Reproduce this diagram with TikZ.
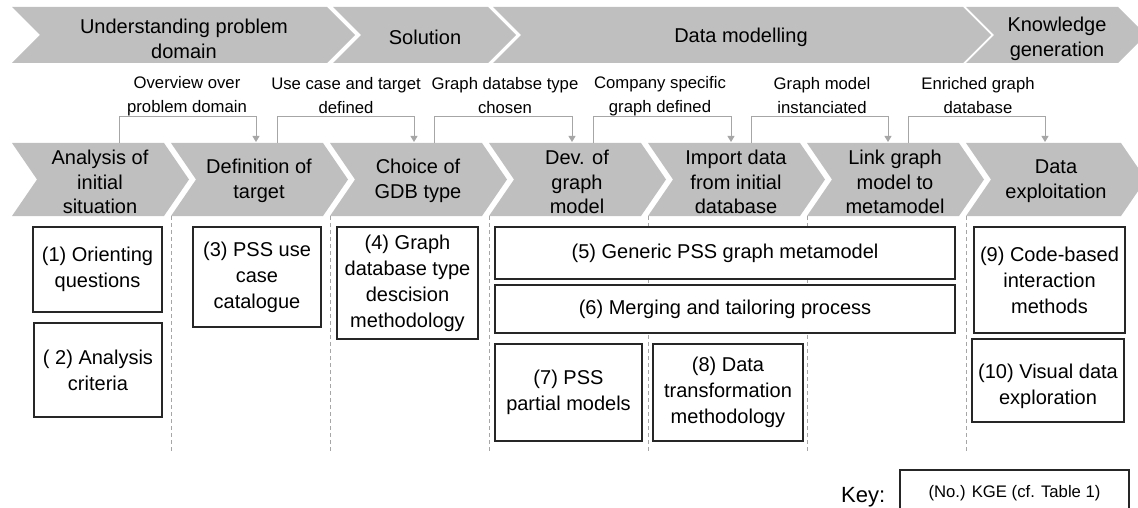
\documentclass[tikz,border=0pt]{standalone}
\usepackage{fontspec}
\setmainfont{Liberation Sans}
\usetikzlibrary{arrows.meta,positioning}

\definecolor{phasegray}{HTML}{BFBFBF}
\definecolor{linkgray}{HTML}{A6A6A6}
\definecolor{boxline}{HTML}{262626}

\begin{document}
\begin{tikzpicture}[x=1pt, y=-1pt,
	phase/.style={fill=phasegray, draw=none},
	phasetext/.style={align=center, inner sep=0pt, font=\fontsize{20}{24.5}\selectfont},
	result/.style={align=center, inner sep=0pt, font=\fontsize{16.7}{24}\selectfont},
	kge/.style={draw=boxline, fill=white, line width=1.1pt, align=center, inner sep=0pt, font=\fontsize{20}{26}\selectfont},
	flow/.style={draw=linkgray, line width=1pt, -{Triangle[length=6pt,width=7pt]}},
	sep/.style={draw=linkgray, line width=1pt, dash pattern=on 4pt off 3pt}]

	% ---- frame

	\useasboundingbox (0,0) rectangle (1138,508);
	\clip (0,0) rectangle (1138,508);

	% ---- parameters

	\def\td{28}    % tip depth, upper row
	\def\bd{25}    % tip depth, lower row
	\def\bh{36.5}  % half height, lower row

	% ---- upper row: phases

	\foreach \l/\r in {12/327, 333/488, 493/963, 966/1118} {
		\fill[phase] (\l,7) -- (\r,7) -- ++(\td,28) -- ++(-\td,28) -- (\l,63) -- ++(\td,-28) -- cycle;
	}

	\node[phasetext] (p1) at (184,39) {Understanding problem\\domain};
	\node[phasetext] (p2) at (425,37) {Solution};
	\node[phasetext] (p3) at (741,37) {Data modelling};
	\node[phasetext] (p4) at (1057,39) {Knowledge\\generation};

	% ---- lower row: steps

	\foreach \l/\r in {12/164, 171/323, 330/482, 489/641, 648/800, 807/959, 966/1121} {
		\fill[phase] (\l,143) -- (\r,143) -- ++(\bd,\bh) -- ++(-\bd,\bh) -- (\l,216) -- ++(\bd,-\bh) -- cycle;
	}

	\node[phasetext] (s1) at (100,182) {Analysis of\\initial\\situation};
	\node[phasetext] (s2) at (259,181) {Definition of\\target};
	\node[phasetext] (s3) at (418,181) {Choice of\\GDB type};
	\node[phasetext] (s4) at (577,182) {Dev. of\\graph\\model};
	\node[phasetext] (s5) at (736,182) {Import data\\from initial\\database};
	\node[phasetext] (s6) at (895,182) {Link graph\\model to\\metamodel};
	\node[phasetext] (s7) at (1056,181) {Data\\exploitation};

	% ---- separators

	\foreach \x in {171,330,489,648,807,966} { \draw[sep] (\x,216) -- (\x,453); }

	% ---- hand-over points

	\foreach \i/\j/\xo/\xa in {1/2/119/256, 2/3/277/414, 3/4/434/572, 4/5/593/731, 5/6/751/888, 6/7/908/1045} {
		\coordinate (o\i) at (\xo,143);
		\coordinate (a\j) at (\xa,142);
	}

	% ---- results between steps

	\node[result] (r1) at (187,96) {Overview over\\problem domain};
	\node[result] (r2) at (346,96) {Use case and target\\defined};
	\node[result] (r3) at (505,96) {Graph databse type\\chosen};
	\node[result] (r4) at (660,96) {Company specific\\graph defined};
	\node[result] (r5) at (822,96) {Graph model\\instanciated};
	\node[result] (r6) at (978,96) {Enriched graph\\database};

	\foreach \i/\j in {1/2, 2/3, 3/4, 4/5, 5/6, 6/7} { \draw[flow] (o\i) -- ++(0,-26) -| (a\j); }

	% ---- KGE boxes

	\node[kge, minimum width=129, minimum height=85] (k1) at (97.5,269.5) {(1) Orienting\\questions};
	\node[kge, minimum width=128, minimum height=94] (k2) at (98,370) {( 2) Analysis\\criteria};
	\node[kge, minimum width=128, minimum height=100] (k3) at (257,277) {(3) PSS use\\case\\catalogue};
	\node[kge, minimum width=141, minimum height=112] (k4) at (407.5,283) {(4) Graph\\database type\\descision\\methodology};
	\node[kge, minimum width=460, minimum height=52] (k5) at (725,253) {(5) Generic PSS graph metamodel};
	\node[kge, minimum width=460, minimum height=48] (k6) at (725,309) {(6) Merging and tailoring process};
	\node[kge, minimum width=147, minimum height=97] (k7) at (568.5,392.5) {(7) PSS\\partial models};
	\node[kge, minimum width=150, minimum height=97] (k8) at (728,392.5) {(8) Data\\transformation\\methodology};
	\node[kge, minimum width=151, minimum height=106] (k9) at (1049.5,280) {(9) Code-based\\interaction\\methods};
	\node[kge, minimum width=152, minimum height=83] (k10) at (1048,380.5) {\mbox{}\\(10) Visual data\\exploration};

	% ---- key

	\node[kge, minimum width=229, minimum height=48, font=\fontsize{16.7}{20}\selectfont] (key) at (1014.5,494) {\raisebox{5pt}{(No.) KGE (cf. Table 1)}};
	\node[left=14pt of key, yshift=-3pt, inner sep=0pt, font=\fontsize{22}{26}\selectfont] (keytitle) {Key:};

\end{tikzpicture}
\end{document}
